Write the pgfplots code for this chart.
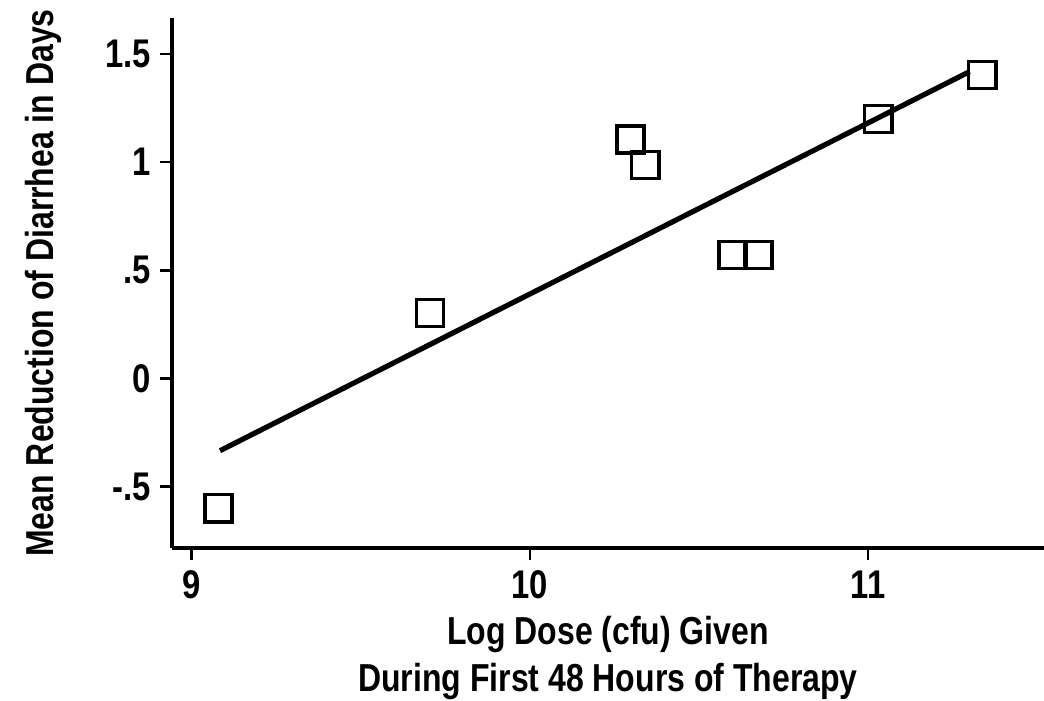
\documentclass[border=0pt]{standalone}
\usepackage{fontspec}
\setmainfont{Liberation Sans}[FakeStretch=0.82]
\usepackage{pgfplots}
\pgfplotsset{compat=1.18}
\usetikzlibrary{calc}
\begin{document}
\begin{tikzpicture}
\begin{axis}[
  name=ax,
  scale only axis,
  width=436pt, height=265pt,
  xmin=8.942, xmax=11.52,
  ymin=-0.784, ymax=1.667,
  axis x line*=bottom, axis y line*=left,
  axis line style={line width=1.6pt, -},
  xtick={9,10,11},
  xticklabels={\textbf{9},\textbf{10},\textbf{11}},
  ytick={-0.5,0,0.5,1,1.5},
  yticklabels={\textbf{-.5},\textbf{0},\textbf{.5},\textbf{1},\textbf{1.5}},
  tick style={line width=1.2pt, black},
  tick align=outside,
  major tick length=6pt,
  ticklabel style={font=\fontsize{20}{23}\selectfont},
  xticklabel style={yshift=-2pt},
  yticklabel style={xshift=-1pt},
  xlabel={\fontsize{19.5}{23.5}\selectfont\bfseries\begin{tabular}{c}Log Dose (cfu) Given\\During First 48 Hours of Therapy\end{tabular}},
  xlabel style={yshift=1pt},
  ylabel={\fontsize{19.5}{23.5}\selectfont\bfseries Mean Reduction of Diarrhea in Days},
  ylabel style={yshift=15pt},
  clip=false,
]
\addplot[black, line width=2.6pt] coordinates {(9.084,-0.334) (11.30,1.419)};
\addplot[only marks, mark=square, mark size=6.8pt, mark options={line width=1.8pt, fill=white, draw=black}]
coordinates {
(9.080,-0.600)
(9.705,0.303)
(10.297,1.105)
(10.341,0.987)
(10.600,0.571)
(10.675,0.571)
(11.030,1.200)
(11.337,1.403)
};
\end{axis}
\pgfresetboundingbox
\path ($(ax.south west)+(-86pt,-76.5pt)$) rectangle ($(ax.north east)+(0pt,9pt)$);
\end{tikzpicture}
\end{document}
